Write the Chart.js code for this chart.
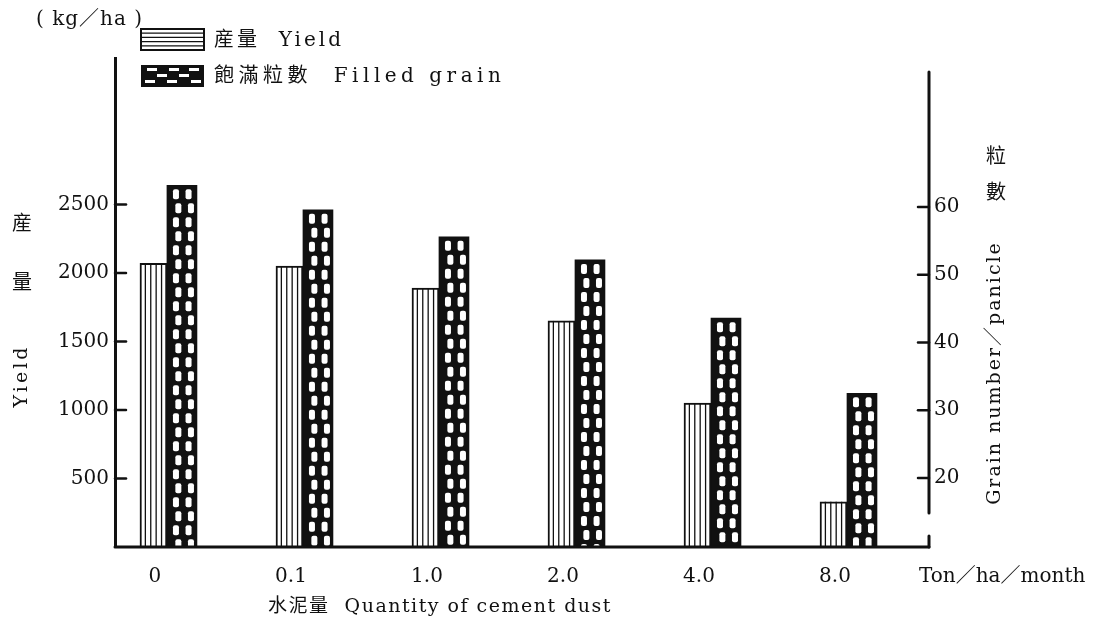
<!DOCTYPE html>
<html lang="zh-Hant">
<head>
<meta charset="UTF-8">
<title>cement dust yield</title>
<script src="https://cdn.jsdelivr.net/npm/chart.js"></script>
<style>
  body { margin: 0; background: #fff; }
  #wrap { position: relative; width: 1102px; height: 620px; }
</style>
</head>
<body>
<div id="wrap"><canvas id="chart"></canvas></div>
<script>
// values
const categories = ['0', '0.1', '1.0', '2.0', '4.0', '8.0'];
const yieldValues = [2070, 2050, 1890, 1650, 1050, 330];       // kg/ha
const grainValues = [63.2, 59.6, 55.6, 52.2, 43.6, 32.5];      // grains / panicle
const yieldTicks = [500, 1000, 1500, 2000, 2500];
const grainTicks = [20, 30, 40, 50, 60];
const seriesNames = ['産量  Yield', '飽滿粒數  Filled grain'];

const ink = '#111';
const serif = '"DejaVu Serif", "Noto Sans CJK TC", serif';
const cjk = '"Noto Sans CJK TC", sans-serif';
const tickFont = { family: serif, size: 20 };

function text(ctx, str, x, y, font, align, spacing) {
    ctx.save();
    ctx.font = font;
    ctx.fillStyle = ink;
    ctx.textAlign = align || 'left';
    ctx.textBaseline = 'middle';
    ctx.letterSpacing = (spacing || 0) + 'px';
    ctx.fillText(str, x, y);
    ctx.restore();
}

function vtext(ctx, str, x, y, font, spacing) {
    ctx.save();
    ctx.translate(x, y);
    ctx.rotate(-Math.PI / 2);
    text(ctx, str, 0, 0, font, 'center', spacing);
    ctx.restore();
}

function dashes(ctx, left, top, w, h, holeW, holeH, step, offsets) {
    ctx.save();
    ctx.beginPath();
    ctx.rect(left, top, w, h);
    ctx.clip();
    ctx.fillStyle = '#fff';
    let r = 0;
    for (let ry = top + 4; ry < top + h - 2; ry += step, r++) {
        offsets[r % offsets.length].forEach(f => {
            ctx.beginPath();
            ctx.roundRect(left + f * w - holeW / 2, ry, holeW, holeH, 2);
            ctx.fill();
        });
    }
    ctx.restore();
}

const texturePlugin = {
    id: 'texture',
    afterDatasetsDraw(chart) {
        const ctx = chart.ctx;
        // vertical hatching on yield bars
        chart.getDatasetMeta(0).data.forEach(el => {
            const { x, y, base, width } = el.getProps(['x', 'y', 'base', 'width'], true);
            const left = x - width / 2;
            ctx.save();
            ctx.strokeStyle = ink;
            ctx.lineWidth = 1.3;
            for (let k = 1; k < 5; k++) {
                const lx = left + k * width / 5;
                ctx.beginPath();
                ctx.moveTo(lx, y);
                ctx.lineTo(lx, base);
                ctx.stroke();
            }
            ctx.restore();
        });
        // white dashes on the black grain bars
        chart.getDatasetMeta(1).data.forEach(el => {
            const { x, y, base, width } = el.getProps(['x', 'y', 'base', 'width'], true);
            dashes(ctx, x - width / 2, y, width, base - y, 6, 10, 14, [[0.3, 0.72], [0.38, 0.8]]);
        });
    },
    afterDraw(chart) {
        const ctx = chart.ctx;
        const area = chart.chartArea;
        const ys = chart.scales.y, y1 = chart.scales.y1;

        ctx.save();
        ctx.strokeStyle = ink;
        ctx.lineCap = 'round';
        // right axis line (stops short of the baseline) and the corner mark
        ctx.lineWidth = 3;
        ctx.beginPath();
        ctx.moveTo(area.right, 72);
        ctx.lineTo(area.right, 513);
        ctx.moveTo(area.right, 536);
        ctx.lineTo(area.right, area.bottom);
        ctx.stroke();
        // baseline on top of the bars
        ctx.beginPath();
        ctx.moveTo(area.left, area.bottom);
        ctx.lineTo(area.right, area.bottom);
        ctx.stroke();
        // inward tick marks
        ctx.lineWidth = 2.5;
        ys.ticks.forEach(t => {
            const py = ys.getPixelForValue(t.value);
            ctx.beginPath();
            ctx.moveTo(area.left, py);
            ctx.lineTo(area.left + 11, py);
            ctx.stroke();
        });
        y1.ticks.forEach(t => {
            const py = y1.getPixelForValue(t.value);
            ctx.beginPath();
            ctx.moveTo(area.right - 11, py);
            ctx.lineTo(area.right, py);
            ctx.stroke();
        });
        ctx.restore();

        // legend
        const sx = 141, sw = 63;
        ctx.save();
        ctx.fillStyle = '#fff';
        ctx.strokeStyle = ink;
        ctx.lineWidth = 2;
        ctx.fillRect(sx, 29, sw, 21);
        ctx.strokeRect(sx, 29, sw, 21);
        ctx.lineWidth = 1.3;
        for (let k = 1; k < 5; k++) {
            ctx.beginPath();
            ctx.moveTo(sx, 29 + k * 21 / 5);
            ctx.lineTo(sx + sw, 29 + k * 21 / 5);
            ctx.stroke();
        }
        ctx.fillStyle = ink;
        ctx.fillRect(sx, 65, sw, 22);
        ctx.restore();
        ctx.save();
        ctx.beginPath();
        ctx.rect(sx, 65, sw, 22);
        ctx.clip();
        ctx.fillStyle = '#fff';
        [[68, [6, 28, 48]], [74, [16, 38]], [80, [4, 26, 50]]].forEach(([ry, xs]) => {
            xs.forEach(dx => ctx.fillRect(sx + dx, ry, 10, 3));
        });
        ctx.restore();
        text(ctx, seriesNames[0], 214, 41, '20px ' + serif, 'left', 3);
        text(ctx, seriesNames[1], 214, 77, '20px ' + serif, 'left', 4.5);

        // axis titles and units
        text(ctx, '( kg／ha )', 36, 20, '20px ' + serif, 'left', 1);
        text(ctx, '産', 22, 222, '20px ' + cjk, 'center');
        text(ctx, '量', 22, 281, '20px ' + cjk, 'center');
        vtext(ctx, 'Yield', 22, 376, '19px ' + serif, 3);
        text(ctx, '粒', 996, 155, '20px ' + cjk, 'center');
        text(ctx, '數', 996, 191, '20px ' + cjk, 'center');
        vtext(ctx, 'Grain number／panicle', 995, 373, '19px ' + serif, 2);
        text(ctx, 'Ton／ha／month', 919, 577, '20px ' + serif, 'left', 0);
        text(ctx, '水泥量  Quantity of cement dust', 268, 607, '19px ' + serif, 'left', 1.5);
    }
};

new Chart(document.getElementById('chart'), {
    type: 'bar',
    data: {
        datasets: [{
            label: seriesNames[0],
            data: yieldValues.map((v, i) => ({ x: i, y: v })),
            yAxisID: 'y',
            backgroundColor: '#fff',
            borderColor: ink,
            borderWidth: 2,
            barThickness: 27
        }, {
            label: seriesNames[1],
            data: grainValues.map((v, i) => ({ x: i, y: v })),
            yAxisID: 'y1',
            backgroundColor: ink,
            borderWidth: 0,
            barThickness: 30
        }]
    },
    options: {
        responsive: true,
        maintainAspectRatio: false,
        animation: false,
        layout: { padding: { top: 58, left: 0, right: 0, bottom: 0 } },
        plugins: { legend: { display: false }, tooltip: { enabled: false } },
        scales: {
            x: {
                type: 'linear',
                offset: false,
                min: -0.382,
                max: 5.603,
                afterBuildTicks: s => { s.ticks = categories.map((c, i) => ({ value: i })); },
                afterFit: s => { s.height = 73; },
                ticks: {
                    callback: v => categories[v],
                    labelOffset: -12,
                    padding: 18,
                    maxRotation: 0,
                    autoSkip: false,
                    color: ink,
                    font: tickFont
                },
                grid: { display: false, drawTicks: false, offset: false },
                border: { display: false }
            },
            y: {
                position: 'left',
                min: 0,
                max: 3569,
                afterBuildTicks: s => { s.ticks = yieldTicks.map(v => ({ value: v })); },
                afterFit: s => { s.width = 115; },
                ticks: { padding: 6, color: ink, font: tickFont, callback: v => String(v) },
                grid: { display: false, drawTicks: false },
                border: { display: true, width: 3, color: ink }
            },
            y1: {
                position: 'right',
                min: 9.82,
                max: 82.0,
                afterBuildTicks: s => { s.ticks = grainTicks.map(v => ({ value: v })); },
                afterFit: s => { s.width = 173; },
                ticks: { padding: 5, color: ink, font: tickFont, callback: v => String(v) },
                grid: { display: false, drawTicks: false },
                border: { display: false }
            }
        }
    },
    plugins: [texturePlugin]
});
</script>
</body>
</html>
